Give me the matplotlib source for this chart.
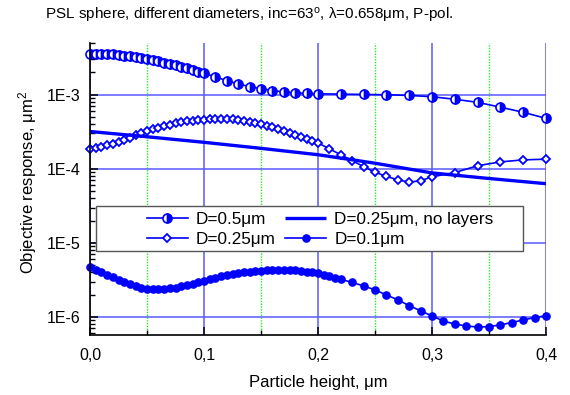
import numpy as np
import matplotlib
matplotlib.use("Agg")
import matplotlib.pyplot as plt
from matplotlib.ticker import FixedLocator, FuncFormatter, LogLocator, NullFormatter
from matplotlib.patches import Rectangle

plt.rcParams['font.family'] = ['Liberation Sans', 'DejaVu Sans']
plt.rcParams['mathtext.fontset'] = 'custom'
plt.rcParams['mathtext.rm'] = 'Liberation Sans'
plt.rcParams['mathtext.it'] = 'Liberation Sans'

# ---------------- data ----------------
x_d05 = [0.000, 0.005, 0.010, 0.015, 0.020, 0.025, 0.030, 0.035, 0.040, 0.045,
         0.050, 0.055, 0.060, 0.065, 0.070, 0.075, 0.080, 0.085, 0.090, 0.095,
         0.100, 0.11, 0.12, 0.13, 0.14, 0.15, 0.16, 0.17, 0.18, 0.19, 0.20,
         0.22, 0.24, 0.26, 0.28, 0.30, 0.32, 0.34, 0.36, 0.38, 0.40]
y_d05 = [3.60e-3, 3.60e-3, 3.58e-3, 3.54e-3, 3.50e-3, 3.44e-3, 3.38e-3, 3.31e-3, 3.22e-3, 3.13e-3,
         3.03e-3, 2.93e-3, 2.82e-3, 2.71e-3, 2.60e-3, 2.49e-3, 2.38e-3, 2.27e-3, 2.16e-3, 2.06e-3,
         1.96e-3, 1.74e-3, 1.55e-3, 1.40e-3, 1.29e-3, 1.21e-3, 1.14e-3, 1.09e-3, 1.06e-3, 1.04e-3, 1.03e-3,
         1.02e-3, 1.01e-3, 1.00e-3, 0.98e-3, 0.94e-3, 0.87e-3, 0.79e-3, 0.68e-3, 0.58e-3, 0.48e-3]

x_d025 = [0.000, 0.005, 0.010, 0.015, 0.020, 0.025, 0.030, 0.035, 0.040, 0.045,
          0.050, 0.055, 0.060, 0.065, 0.070, 0.075, 0.080, 0.085, 0.090, 0.095,
          0.100, 0.105, 0.110, 0.115, 0.120, 0.125, 0.130, 0.135, 0.140, 0.145,
          0.150, 0.155, 0.160, 0.165, 0.170, 0.175, 0.180, 0.185, 0.190, 0.195,
          0.200, 0.21, 0.22, 0.23, 0.24, 0.25, 0.26, 0.27, 0.28, 0.29, 0.30,
          0.32, 0.34, 0.36, 0.38, 0.40]
y_d025 = [1.83e-4, 1.89e-4, 1.97e-4, 2.07e-4, 2.18e-4, 2.32e-4, 2.47e-4, 2.64e-4, 2.82e-4, 3.02e-4,
          3.22e-4, 3.40e-4, 3.60e-4, 3.79e-4, 3.96e-4, 4.12e-4, 4.26e-4, 4.38e-4, 4.48e-4, 4.56e-4,
          4.62e-4, 4.67e-4, 4.70e-4, 4.71e-4, 4.70e-4, 4.65e-4, 4.57e-4, 4.46e-4, 4.33e-4, 4.18e-4,
          4.02e-4, 3.84e-4, 3.65e-4, 3.45e-4, 3.24e-4, 3.03e-4, 2.83e-4, 2.66e-4, 2.52e-4, 2.38e-4,
          2.24e-4, 1.86e-4, 1.55e-4, 1.29e-4, 1.07e-4, 0.90e-4, 0.79e-4, 0.71e-4, 0.66e-4, 0.69e-4, 0.78e-4,
          0.89e-4, 1.10e-4, 1.24e-4, 1.32e-4, 1.35e-4]

x_nolayer = [0.00, 0.05, 0.10, 0.15, 0.20, 0.25, 0.30, 0.35, 0.40]
y_nolayer = [3.19e-4, 2.71e-4, 2.28e-4, 1.89e-4, 1.55e-4, 1.19e-4, 0.88e-4, 0.74e-4, 0.63e-4]

x_d01 = [0.000, 0.005, 0.010, 0.015, 0.020, 0.025, 0.030, 0.035, 0.040, 0.045,
         0.050, 0.055, 0.060, 0.065, 0.070, 0.075, 0.080, 0.085, 0.090, 0.095,
         0.100, 0.105, 0.110, 0.115, 0.120, 0.125, 0.130, 0.135, 0.140, 0.145,
         0.150, 0.155, 0.160, 0.165, 0.170, 0.175, 0.180, 0.185, 0.190, 0.195,
         0.200, 0.205, 0.210, 0.215, 0.220, 0.23, 0.24, 0.25, 0.26, 0.27,
         0.28, 0.29, 0.30, 0.31, 0.32, 0.33, 0.34, 0.35, 0.36, 0.37, 0.38, 0.39, 0.40]
y_d01 = [4.70e-6, 4.35e-6, 4.02e-6, 3.72e-6, 3.45e-6, 3.18e-6, 2.95e-6, 2.75e-6, 2.60e-6, 2.48e-6,
         2.40e-6, 2.36e-6, 2.35e-6, 2.37e-6, 2.42e-6, 2.49e-6, 2.59e-6, 2.70e-6, 2.82e-6, 2.96e-6,
         3.10e-6, 3.25e-6, 3.38e-6, 3.52e-6, 3.65e-6, 3.77e-6, 3.89e-6, 3.99e-6, 4.08e-6, 4.15e-6,
         4.21e-6, 4.26e-6, 4.29e-6, 4.30e-6, 4.30e-6, 4.28e-6, 4.24e-6, 4.18e-6, 4.10e-6, 3.99e-6,
         3.86e-6, 3.72e-6, 3.56e-6, 3.40e-6, 3.22e-6, 2.92e-6, 2.62e-6, 2.32e-6, 1.98e-6, 1.70e-6,
         1.42e-6, 1.21e-6, 1.03e-6, 0.88e-6, 0.80e-6, 0.755e-6, 0.73e-6, 0.74e-6, 0.78e-6, 0.84e-6,
         0.91e-6, 0.98e-6, 1.04e-6]

x_ticks = [0.0, 0.1, 0.2, 0.3, 0.4]
x_tick_labels = ["0,0", "0,1", "0,2", "0,3", "0,4"]
y_ticks = [1e-6, 1e-5, 1e-4, 1e-3]
y_tick_labels = ["1E-6", "1E-5", "1E-4", "1E-3"]

title = "PSL sphere, different diameters, inc=63$^{\\mathrm{o}}$, \u03bb=0.658\u03bcm, P-pol."
xlabel = "Particle height, \u03bcm"
ylabel = "Objective response, \u03bcm$^{2}$"
labels = ["D=0.5\u03bcm", "D=0.25\u03bcm", "D=0.25\u03bcm, no layers", "D=0.1\u03bcm"]

# ---------------- figure ----------------
W, H = 570, 395
fig = plt.figure(figsize=(W / 100, H / 100), dpi=100)
ax = fig.add_axes([90 / W, 1 - 335 / H, (546 - 90) / W, (335 - 43) / H])

blue = '#0000ff'
ax.set_yscale('log')
ax.set_xlim(0.0, 0.4)
ax.set_ylim(5.7e-7, 5.0e-3)

# grid
ax.set_xticks(x_ticks)
ax.set_xticklabels(x_tick_labels)
ax.xaxis.set_minor_locator(FixedLocator([0.05, 0.15, 0.25, 0.35]))
ax.yaxis.set_major_locator(FixedLocator(y_ticks))
ax.yaxis.set_major_formatter(FuncFormatter(lambda v, p: y_tick_labels[y_ticks.index(v)] if v in y_ticks else ""))
ax.yaxis.set_minor_locator(LogLocator(base=10, subs=np.arange(2, 10), numticks=20))
ax.yaxis.set_minor_formatter(NullFormatter())

ax.grid(which='major', axis='both', color='#5a5aff', lw=1.1, zorder=0)
ax.grid(which='minor', axis='x', color='#22ee22', lw=1.0, ls=(0, (1, 1)), zorder=0)
ax.set_axisbelow(True)

for s in ['top', 'right']:
    ax.spines[s].set_visible(False)
for s in ['left', 'bottom']:
    ax.spines[s].set_linewidth(1.2)
    ax.spines[s].set_zorder(6)

ax.tick_params(which='both', direction='in', top=False, right=False, labelsize=11.5)
ax.tick_params(axis='x', which='major', length=6, width=1.1, pad=9)
ax.tick_params(axis='y', which='major', length=6, width=1.1, pad=7)
ax.tick_params(which='minor', length=3.5, width=1.0)

# series
h1, = ax.plot(x_d05, y_d05, color=blue, lw=1.2, marker='o', ms=6.5, fillstyle='right',
              markerfacecolor=blue, markerfacecoloralt='white', markeredgecolor=blue,
              markeredgewidth=1.2, zorder=3, clip_on=False)
h2, = ax.plot(x_d025, y_d025, color=blue, lw=1.2, marker='D', ms=4.5,
              markerfacecolor='white', markeredgecolor=blue, markeredgewidth=1.3, zorder=3, clip_on=False)
h3, = ax.plot(x_nolayer, y_nolayer, color=blue, lw=2.4, zorder=3, solid_capstyle='butt')
h4, = ax.plot(x_d01, y_d01, color=blue, lw=1.2, marker='o', ms=5.2,
              markerfacecolor=blue, markeredgecolor=blue, zorder=3, clip_on=False)

# legend box
rect = Rectangle((96 / W, 1 - 251 / H), (523 - 96) / W, (251 - 206) / H,
                 transform=fig.transFigure, facecolor='white', edgecolor='#555555',
                 lw=1.0, zorder=4)
ax.add_patch(rect)
leg = ax.legend([h1, h2, h3, h4], [labels[0], labels[1], labels[2], labels[3]], ncol=2,
                loc='center', bbox_to_anchor=(320 / W, 1 - 229.5 / H),
                bbox_transform=fig.transFigure, frameon=False, fontsize=12.3,
                handlelength=2.4, handletextpad=0.45, columnspacing=0.6,
                labelspacing=0.3, borderpad=0.1)
leg.set_zorder(5)

ax.set_xlabel(xlabel, fontsize=12, labelpad=9)
ax.set_ylabel(ylabel, fontsize=12)
ax.yaxis.set_label_coords((39 - 90) / 456, (335 - 182) / 292)
fig.text(45 / W, 1 - 15 / H, title, fontsize=11, ha='left', va='center')

fig.savefig("out.png", dpi=100)
